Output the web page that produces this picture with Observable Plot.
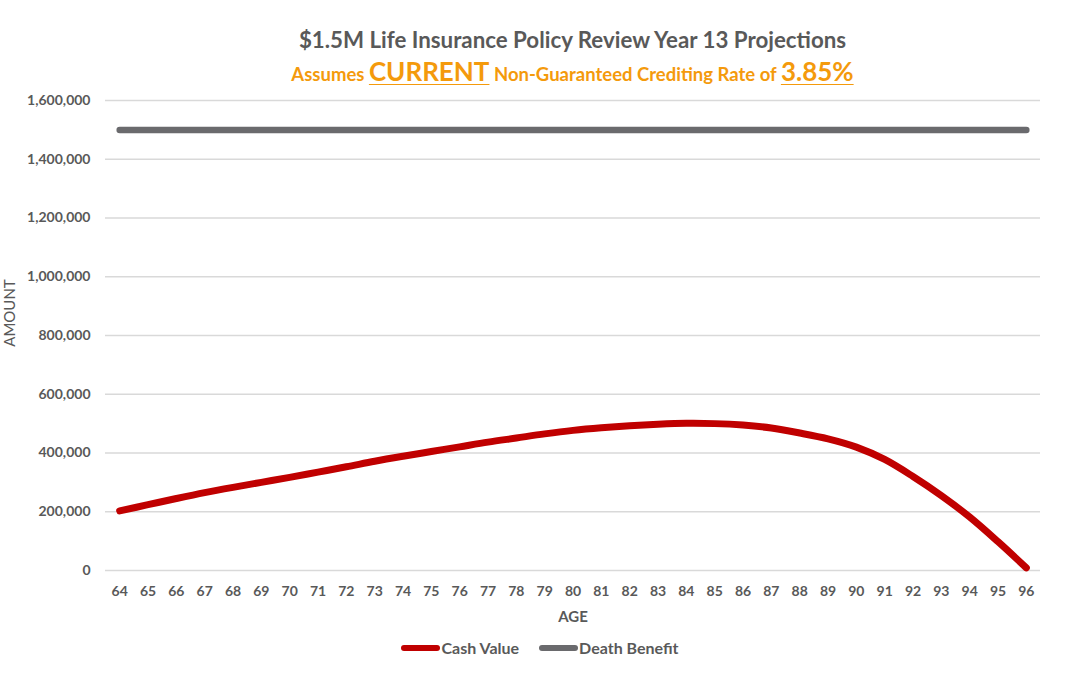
<!DOCTYPE html>
<html>
<head>
<meta charset="utf-8">
<script src="https://cdn.jsdelivr.net/npm/d3@7"></script>
<script src="https://cdn.jsdelivr.net/npm/@observablehq/plot@0.6"></script>
<style>
  html, body { margin: 0; padding: 0; background: #fff; }
  body { width: 1080px; height: 675px; position: relative; overflow: hidden; font-family: Lato, "Open Sans", sans-serif; }
  .t { position: absolute; left: 105px; width: 935px; text-align: center; white-space: nowrap; }
  #title { top: 26px; font-size: 22.3px; line-height: 28px; font-weight: 700; color: #595959; }
  #subtitle { top: 56px; font-size: 18.5px; line-height: 30px; font-weight: 700; color: #F49A0C; }
  #subtitle .big { font-size: 26px; text-decoration: underline; text-decoration-thickness: 2px; text-underline-offset: 3px; }
  #chart { position: absolute; left: 0; top: 85px; }
  #ylabel { position: absolute; left: 9px; top: 313px; transform: translate(-50%, -50%) rotate(-90deg); font-size: 15px; font-weight: 400; color: #595959; white-space: nowrap; }
  #legend { position: absolute; left: 0; width: 1080px; top: 638px; display: flex; justify-content: center; gap: 20px; font-size: 16px; font-weight: 700; color: #595959; }
  .item { display: flex; align-items: center; }
  .sw { width: 39px; height: 6px; border-radius: 3px; margin-right: 1px; }
</style>
</head>
<body>
<div id="title" class="t">$1.5M Life Insurance Policy Review Year 13 Projections</div>
<div id="subtitle" class="t">Assumes <span class="big">CURRENT</span> Non-Guaranteed Crediting Rate of <span class="big">3.85%</span></div>
<div id="chart"></div>
<div id="ylabel">AMOUNT</div>
<div id="legend"></div>
<script>
const ages = [64, 65, 66, 67, 68, 69, 70, 71, 72, 73, 74, 75, 76, 77, 78, 79, 80, 81, 82, 83, 84, 85, 86, 87, 88, 89, 90, 91, 92, 93, 94, 95, 96];
const cashValue = [203000, 224000, 245000, 265000, 283000, 300000, 317000, 335000, 353000, 372000, 389000, 405000, 421000, 437000, 451000, 465000, 477000, 486000, 493000, 498000, 501000, 500000, 495000, 485000, 468000, 448000, 420000, 378000, 320000, 255000, 182000, 98000, 9000];
const deathBenefit = [1500000, 1500000, 1500000, 1500000, 1500000, 1500000, 1500000, 1500000, 1500000, 1500000, 1500000, 1500000, 1500000, 1500000, 1500000, 1500000, 1500000, 1500000, 1500000, 1500000, 1500000, 1500000, 1500000, 1500000, 1500000, 1500000, 1500000, 1500000, 1500000, 1500000, 1500000, 1500000, 1500000];
const yTicks = [0, 200000, 400000, 600000, 800000, 1000000, 1200000, 1400000, 1600000];
const seriesNames = ["Cash Value", "Death Benefit"];
const seriesColors = ["#C00000", "#6A6A6D"];

const cashData = ages.map((a, i) => ({age: a, value: cashValue[i]}));
const deathData = ages.map((a, i) => ({age: a, value: deathBenefit[i]}));

const chart = Plot.plot({
  width: 1080,
  height: 545,
  marginLeft: 105,
  marginRight: 40,
  marginTop: 15,
  marginBottom: 60,
  style: {fontFamily: "Lato, 'Open Sans', sans-serif", fontSize: "14px", fontWeight: 700, color: "#595959", background: "white", overflow: "visible"},
  x: {type: "linear", domain: [63.5, 96.5], ticks: ages, tickFormat: d => String(d), tickSize: 0, tickPadding: 16, label: null},
  y: {domain: [0, 1600000], ticks: yTicks, tickFormat: d3.format(","), tickSize: 0, tickPadding: 15, label: null},
  marks: [
    Plot.ruleY(yTicks, {stroke: "#D9D9D9", strokeWidth: 1.3}),
    Plot.line(deathData, {x: "age", y: "value", stroke: seriesColors[1], strokeWidth: 6.5, strokeLinecap: "round", curve: "catmull-rom"}),
    Plot.line(cashData, {x: "age", y: "value", stroke: seriesColors[0], strokeWidth: 7, strokeLinecap: "round", strokeLinejoin: "round", curve: "catmull-rom"}),
    Plot.text(["AGE"], {text: d => d, frameAnchor: "bottom", dy: 47, lineAnchor: "middle", fontSize: 15, fontWeight: 700, fill: "#595959"})
  ]
});
document.getElementById("chart").appendChild(chart);

const legend = document.getElementById("legend");
seriesNames.forEach((name, i) => {
  const item = document.createElement("div");
  item.className = "item";
  const sw = document.createElement("div");
  sw.className = "sw";
  sw.style.background = seriesColors[i];
  const label = document.createElement("span");
  label.textContent = name;
  item.appendChild(sw);
  item.appendChild(label);
  legend.appendChild(item);
});
</script>
</body>
</html>
